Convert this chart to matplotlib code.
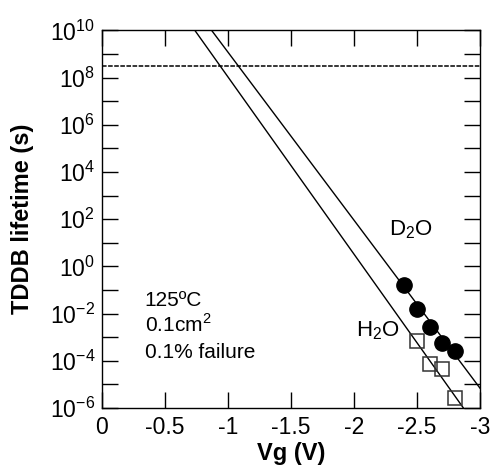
import numpy as np
import matplotlib
matplotlib.use("Agg")
import matplotlib.pyplot as plt
from matplotlib.ticker import LogLocator, FixedLocator

plt.rcParams['font.family'] = ['Liberation Sans', 'DejaVu Sans']
plt.rcParams['mathtext.fontset'] = 'custom'
plt.rcParams['mathtext.rm'] = 'Liberation Sans'
plt.rcParams['axes.unicode_minus'] = False

# measured lifetimes at 0.1% failure, 125C
vg_d2o = [-2.4, -2.5, -2.6, -2.7, -2.8]
t_d2o = [1.7e-1, 1.6e-2, 2.7e-3, 5.6e-4, 2.5e-4]
vg_h2o = [-2.5, -2.6, -2.7, -2.8]
t_h2o = [6.6e-4, 7.4e-5, 4.3e-5, 2.7e-6]

# extrapolation lines: log10(t) = a + b * Vg
fit_d2o = (16.20, 7.12)
fit_h2o = (15.54, 7.51)

ten_years = 3.15e8

fig = plt.figure(figsize=(4.97, 4.75), dpi=100)
ax = fig.add_axes([0.2052, 0.1411, 0.7606, 0.7947])

v = np.linspace(0, -3, 200)
for a, b in (fit_d2o, fit_h2o):
    ax.plot(v, 10 ** (a + b * v), color='black', lw=1)

ax.axhline(ten_years, color='black', lw=1.1, linestyle=(0, (3, 1)))

ax.plot(vg_d2o, t_d2o, 'o', ms=11, color='black', mec='black')
ax.plot(vg_h2o, t_h2o, 's', ms=10.5, mfc='none', mec='#333333', mew=1.1)

ax.set_yscale('log')
ax.set_xlim(0, -3)
ax.set_ylim(1e-6, 1e10)

ax.xaxis.set_major_locator(FixedLocator([0, -0.5, -1, -1.5, -2, -2.5, -3]))
ax.set_xticklabels(['0', '-0.5', '-1', '-1.5', '-2', '-2.5', '-3'])
ax.yaxis.set_major_locator(LogLocator(base=100, numticks=20))
ax.yaxis.set_minor_locator(FixedLocator([10.0 ** k for k in range(-5, 10, 2)]))
ax.yaxis.set_minor_formatter(plt.NullFormatter())

ax.tick_params(which='both', direction='in', length=11.5, width=1,
               top=True, right=True, labelsize=16.5)
ax.tick_params(axis='x', pad=6)
ax.tick_params(axis='y', pad=5)
for s in ax.spines.values():
    s.set_linewidth(1)

ax.set_xlabel('Vg (V)', fontsize=17, fontweight='bold', labelpad=2)
ax.set_ylabel('TDDB lifetime (s)', fontsize=17, fontweight='bold')
ax.yaxis.set_label_coords(-0.18, 0.5)

ax.text(-0.34, 2.2e-2, '125ºC', fontsize=15, va='baseline')
ax.text(-0.34, 1.7e-3, '0.1cm$^2$', fontsize=15, va='baseline')
ax.text(-0.34, 1.26e-4, '0.1% failure', fontsize=15, va='baseline')

ax.text(-2.278, 21, 'D$_2$O', fontsize=16, va='baseline')
ax.text(-2.016, 1.07e-3, 'H$_2$O', fontsize=16, va='baseline')

fig.savefig('out.png', dpi=100)
